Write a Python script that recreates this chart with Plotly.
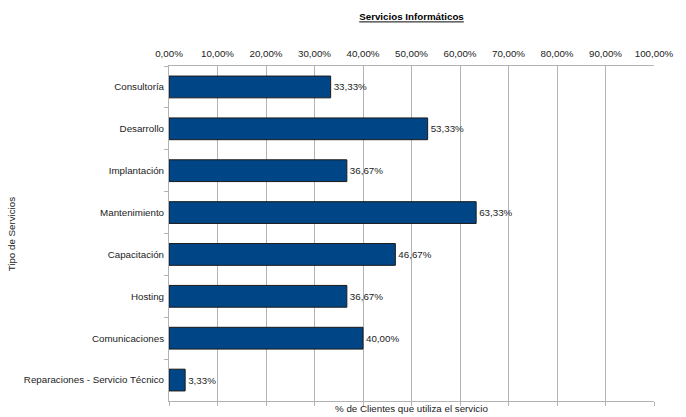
import plotly.graph_objects as go

servicios = [
    "Consultoría",
    "Desarrollo",
    "Implantación",
    "Mantenimiento",
    "Capacitación",
    "Hosting",
    "Comunicaciones",
    "Reparaciones - Servicio Técnico",
]
porcentajes = [33.33, 53.33, 36.67, 63.33, 46.67, 36.67, 40.00, 3.33]
ticks_x = [0, 10, 20, 30, 40, 50, 60, 70, 80, 90, 100]
ticks_txt = [f"{v:.2f}".replace(".", ",") + "%" for v in ticks_x]

FONT = "Liberation Sans"
FS = 9.75
GRID = "#b3b3b3"
L, R, T, B = 169, 17, 66, 12
PW, PH = 686 - L - R, 417 - T - B

fig = go.Figure()
fig.add_trace(go.Bar(
    x=porcentajes,
    y=servicios,
    orientation="h",
    marker=dict(color="#004586", line=dict(color="#1a1a1a", width=1)),
    width=0.52,
    texttemplate="%{x:.2f}%",
    textposition="outside",
    textfont=dict(family=FONT, size=FS, color="#222"),
    cliponaxis=False,
    xaxis="x",
    yaxis="y",
))
# invisible trace to keep the bottom tick axis drawn
fig.add_trace(go.Scatter(x=[0, 100], y=[servicios[0], servicios[0]], mode="markers",
                         marker=dict(opacity=0), xaxis="x2", yaxis="y",
                         hoverinfo="skip", showlegend=False))

fig.update_layout(
    width=686, height=417,
    margin=dict(l=L, r=R, t=T, b=B),
    paper_bgcolor="white", plot_bgcolor="white",
    separators=",.",
    showlegend=False,
    font=dict(family=FONT, size=FS, color="#222"),
    title=dict(text="<b><u>Servicios Informáticos</u></b>", x=0.5, xref="paper",
               y=1 - 17 / 417, yanchor="middle", xanchor="center",
               font=dict(family=FONT, size=9.75, color="#000")),
    xaxis=dict(
        side="top", range=[0, 100], tickmode="array", tickvals=ticks_x, ticktext=ticks_txt,
        showgrid=True, gridcolor=GRID, gridwidth=1, zeroline=False,
        showline=True, linecolor=GRID, ticks="", ticklen=0,
        tickfont=dict(family=FONT, size=FS, color="#222"),
        ticklabelstandoff=4, ticklabeloverflow="allow",
        fixedrange=True,
    ),
    xaxis2=dict(
        overlaying="x", side="bottom", range=[0, 100], tickmode="array", tickvals=ticks_x,
        showticklabels=False, showgrid=False, zeroline=False,
        showline=True, linecolor=GRID, ticks="outside", ticklen=4, tickcolor=GRID,
    ),
    yaxis=dict(
        autorange="reversed", tickson="boundaries", ticks="outside", ticklen=4,
        tickcolor=GRID, showline=True, linecolor=GRID, showgrid=False,
        tickfont=dict(family=FONT, size=FS, color="#222"),
        ticklabelstandoff=2,
    ),
    bargap=0.48,
    annotations=[
        dict(text="% de Clientes que utiliza el servicio", xref="paper", yref="paper",
             x=0.5, y=-8 / PH, xanchor="center", yanchor="middle", showarrow=False,
             font=dict(family=FONT, size=FS, color="#222")),
        dict(text="Tipo de Servicios", xref="paper", yref="paper",
             x=(7 - L) / PW, y=0.5, xanchor="center", yanchor="middle",
             textangle=-90, showarrow=False,
             font=dict(family=FONT, size=FS, color="#222")),
    ],
)

fig.write_html("out.html")
